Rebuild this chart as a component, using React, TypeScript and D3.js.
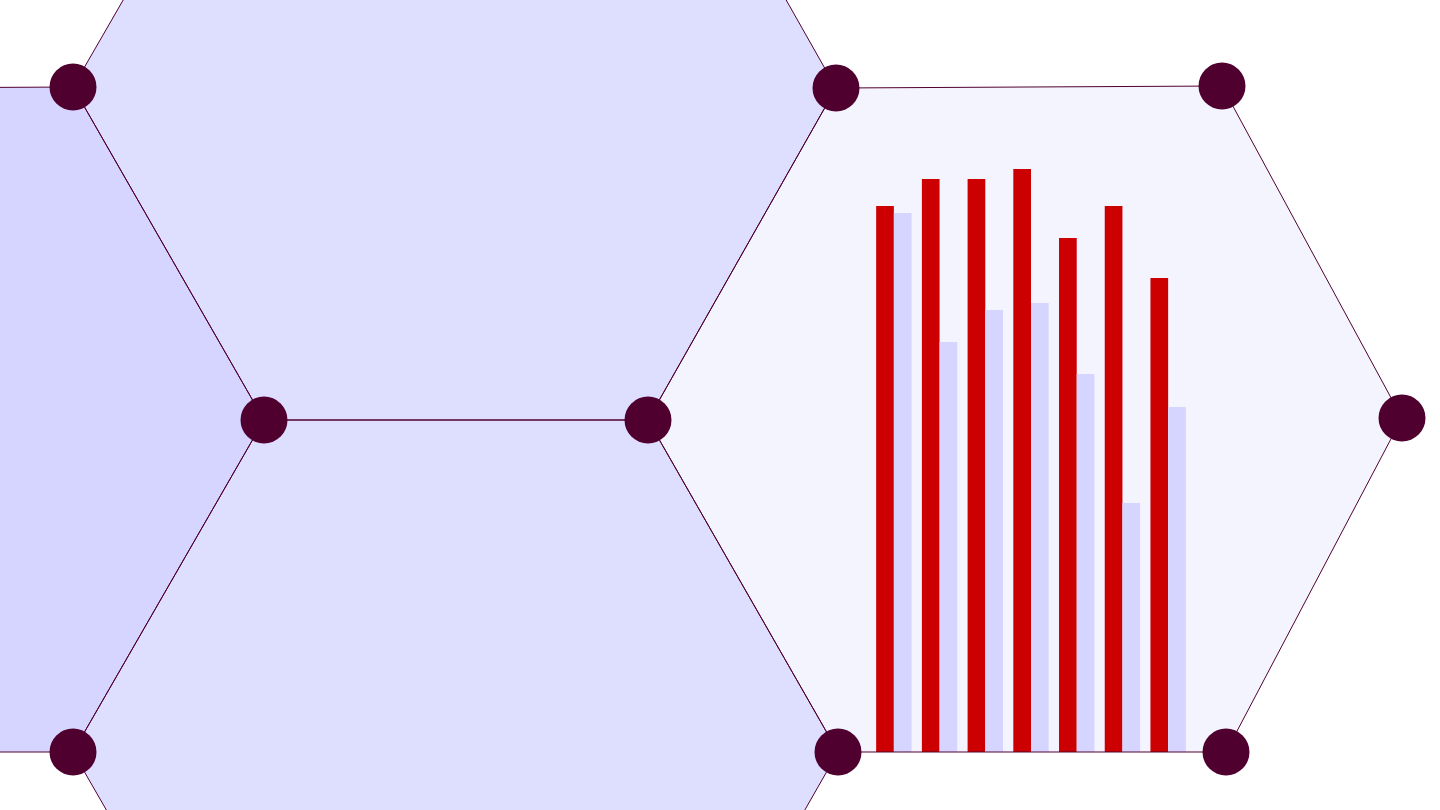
import React from "react";
import * as d3 from "d3";

// Grouped bar values
const categories = ["A", "B", "C", "D", "E", "F", "G"];
const seriesRed = [546, 573, 573, 583, 514, 546, 474];
const seriesLavender = [539, 410, 442, 449, 378, 249, 345];

const W = 1440;
const H = 810;

// Lattice nodes shared by the honeycomb cells
const nodes: Record<string, [number, number]> = {
  A: [73, 87],
  B: [836, 88],
  C: [1222, 86],
  D: [264, 420],
  E: [648, 420],
  F: [1402, 418],
  G: [73, 752],
  Hn: [838, 752],
  I: [1226, 752],
  T1: [264, -244],
  T2: [648, -244],
  B1: [264, 1084],
  B2: [648, 1084],
  L1: [-118, 88],
  L2: [-309, 420],
  L3: [-118, 752],
};

const cells = [
  { ids: ["L1", "A", "D", "G", "L3", "L2"], fill: "#d5d5ff" },
  { ids: ["T1", "T2", "B", "E", "D", "A"], fill: "#dedeff" },
  { ids: ["D", "E", "Hn", "B2", "B1", "G"], fill: "#dedeff" },
  { ids: ["B", "C", "F", "I", "Hn", "E"], fill: "#f4f4ff" },
];

const dotIds = ["A", "B", "C", "D", "E", "F", "G", "Hn", "I"];

const STROKE = "#50002f";

export default function App() {
  const line = d3.line<[number, number]>().curve(d3.curveLinearClosed);

  const x0 = d3
    .scaleBand<string>()
    .domain(categories)
    .range([871, 1191])
    .paddingInner(0.226)
    .paddingOuter(0.113);
  const x1 = d3
    .scaleBand<string>()
    .domain(["red", "lav"])
    .range([0, x0.bandwidth()]);
  const y = d3.scaleLinear().domain([0, 600]).range([752, 152]);

  return (
    <svg
      width={W}
      height={H}
      style={{ position: "absolute", left: 0, top: 0, display: "block", background: "#ffffff" }}
    >
      {cells.map((c, i) => (
        <path key={"f" + i} d={line(c.ids.map((id) => nodes[id])) || ""} fill={c.fill} />
      ))}
      <g>
        {categories.map((cat, i) => (
          <g key={cat} transform={`translate(${x0(cat)},0)`}>
            <rect
              x={x1("red")}
              y={y(seriesRed[i])}
              width={x1.bandwidth()}
              height={y(0) - y(seriesRed[i])}
              fill="#cc0000"
            />
            <rect
              x={x1("lav")}
              y={y(seriesLavender[i])}
              width={x1.bandwidth()}
              height={y(0) - y(seriesLavender[i])}
              fill="#d5d5ff"
            />
          </g>
        ))}
      </g>
      {cells.map((c, i) => (
        <path
          key={"s" + i}
          d={line(c.ids.map((id) => nodes[id])) || ""}
          fill="none"
          stroke={STROKE}
          strokeWidth={1}
        />
      ))}
      {dotIds.map((id) => (
        <circle key={id} cx={nodes[id][0]} cy={nodes[id][1]} r={23.5} fill={STROKE} />
      ))}
    </svg>
  );
}
